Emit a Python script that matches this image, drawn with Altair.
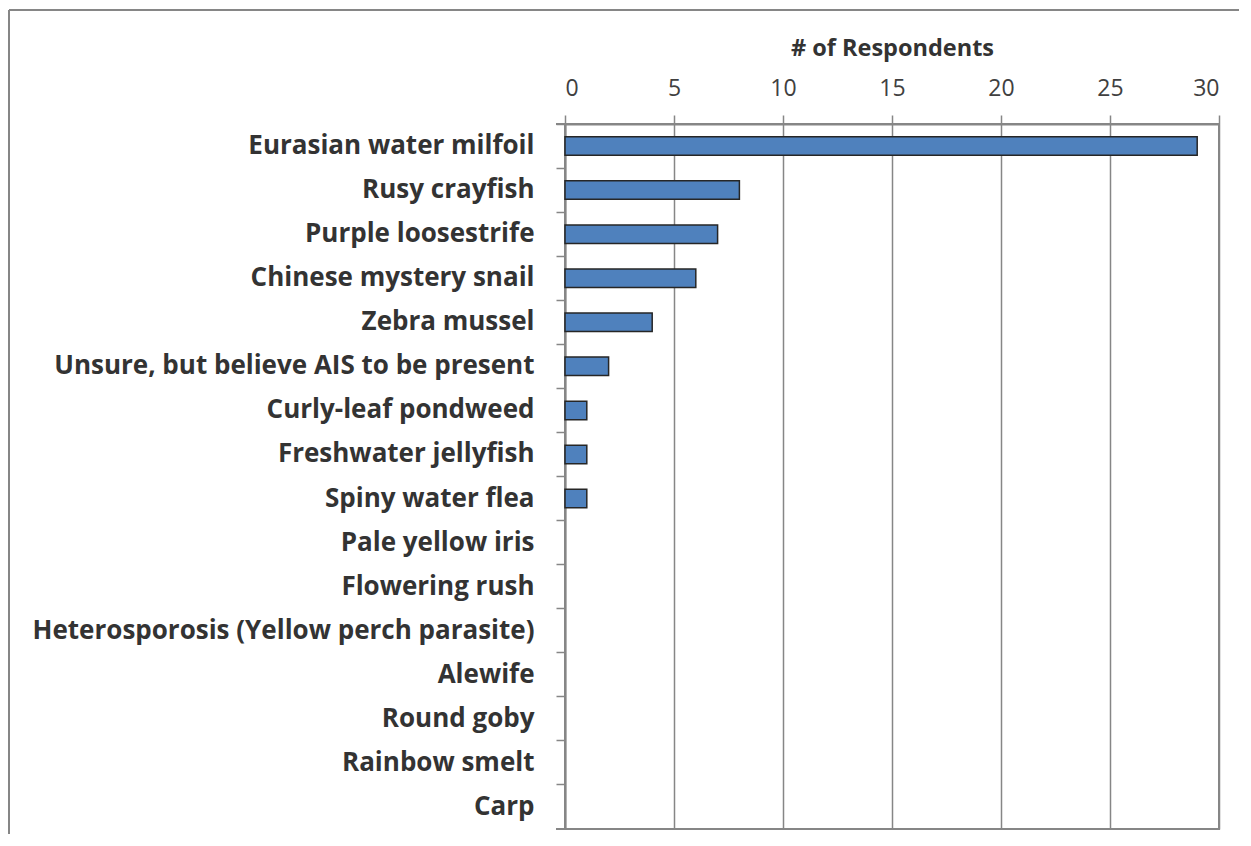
import altair as alt
import pandas as pd

species = [
    "Eurasian water milfoil",
    "Rusy crayfish",
    "Purple loosestrife",
    "Chinese mystery snail",
    "Zebra mussel",
    "Unsure, but believe AIS to be present",
    "Curly-leaf pondweed",
    "Freshwater jellyfish",
    "Spiny water flea",
    "Pale yellow iris",
    "Flowering rush",
    "Heterosporosis (Yellow perch parasite)",
    "Alewife",
    "Round goby",
    "Rainbow smelt",
    "Carp",
]
respondents = [29, 8, 7, 6, 4, 2, 1, 1, 1, 0, 0, 0, 0, 0, 0, 0]
x_ticks = [0, 5, 10, 15, 20, 25, 30]

df = pd.DataFrame({"species": species, "respondents": respondents})

W, H = 654, 705
PL, PT, PR, PB = 557, 116, 20, 5
GRAY = "#868686"
FONT = "Open Sans"

bars = alt.Chart(df).mark_bar(
    fill="#4F81BD", stroke="#262626", height=alt.RelativeBandSize(0.42)
).encode(
    x=alt.X(
        "respondents:Q",
        scale=alt.Scale(domain=[0, 30], nice=False),
        axis=alt.Axis(
            orient="top", values=x_ticks, title="# of Respondents",
            grid=True, gridColor=GRAY, gridWidth=1.5,
            tickColor=GRAY, tickSize=9, tickWidth=1.5,
            domainColor=GRAY, domainWidth=2,
            labelFont=FONT, labelFontSize=23, labelColor="#404040", labelPadding=15,
            titleFont=FONT, titleFontSize=23.5, titleFontWeight="bold", titleColor="#333333",
            titlePadding=17,
        ),
    ),
    y=alt.Y(
        "species:N", sort=species,
        scale=alt.Scale(paddingInner=0, paddingOuter=0),
        axis=alt.Axis(
            title=None, bandPosition=0, ticks=True, tickSize=9, tickColor=GRAY, tickWidth=1.5,
            domainColor=GRAY, domainWidth=2, grid=False,
            labelFont=FONT, labelFontSize=26, labelFontWeight="bold", labelColor="#333333",
            labelPadding=22, labelLimit=0,
        ),
    ),
    strokeWidth=alt.condition("datum.respondents > 0", alt.value(1.5), alt.value(0)),
)

one = pd.DataFrame({"k": [0]})
deco = alt.Chart(one)
top_line = deco.mark_rule(color=GRAY, strokeWidth=2).encode(
    x=alt.value(-9), x2=alt.value(W), y=alt.value(0))
bottom_line = deco.mark_rule(color=GRAY, strokeWidth=2).encode(
    x=alt.value(-9), x2=alt.value(W), y=alt.value(H))
frame_left = deco.mark_rule(color=GRAY, strokeWidth=2).encode(
    x=alt.value(-PL + 1), y=alt.value(-PT + 2), y2=alt.value(H + PB))
frame_top = deco.mark_rule(color=GRAY, strokeWidth=2).encode(
    x=alt.value(-PL + 1), x2=alt.value(W + PR), y=alt.value(-PT + 2))

chart = alt.layer(bars, top_line, bottom_line, frame_left, frame_top).properties(
    width=W, height=H,
    padding={"left": PL, "top": PT, "right": PR, "bottom": PB},
    autosize=alt.AutoSizeParams(type="none"),
    background="white",
).configure_view(stroke=GRAY, strokeWidth=2)

chart.save("out.html", embed_options={"renderer": "svg", "actions": False})
